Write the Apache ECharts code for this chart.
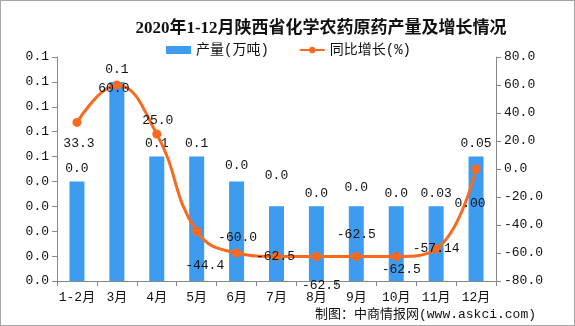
<!DOCTYPE html>
<html>
<head>
<meta charset="utf-8">
<script src="https://cdn.jsdelivr.net/npm/echarts@6/dist/echarts.min.js"></script>
<style>
html,body{margin:0;padding:0;background:#fff;}
#c{width:575px;height:326px;box-sizing:border-box;border:1px solid #a6a6a6;}
</style>
</head>
<body>
<div id="c"></div>
<script>
var categories = ['1-2月','3月','4月','5月','6月','7月','8月','9月','10月','11月','12月'];
var output = [0.04, 0.08, 0.05, 0.05, 0.04, 0.03, 0.03, 0.03, 0.03, 0.03, 0.05];
var outputLabels = ['0.0','0.1','0.1','0.1','0.0','0.0','0.0','0.0','0.0','0.03','0.05'];
var growth = [33.3, 60.0, 25.0, -44.4, -60.0, -62.5, -62.5, -62.5, -62.5, -57.14, 0.00];
var growthLabels = ['33.3','60.0','25.0','-44.4','-60.0','-62.5','-62.5','-62.5','-62.5','-57.14','0.00'];

// label layout (pixel offsets), kept apart from the data
var barLabelOffsets = [0,0,0,0,-3,-18,0,-6,0,0,0];
var lineLabelOffsets = [[2,21],[-3,4],[1,-13],[8,34],[1,-15],[-1,0],[5,29],[0,-22],[5,13],[0,0],[-6,35]];

var mono = '"Liberation Mono","DejaVu Sans Mono","Noto Sans CJK SC",monospace';
var chart = echarts.init(document.getElementById('c'), null, {renderer:'canvas'});
chart.setOption({
  animation:false,
  title:{
    text:'2020年1-12月陕西省化学农药原药产量及增长情况',
    left:315, top:14, textAlign:'center',
    textStyle:{fontSize:17, fontWeight:'bold', color:'#111', fontFamily:'"Liberation Serif","Noto Sans CJK SC",serif'}
  },
  legend:{
    top:37, left:160, itemGap:30, itemWidth:25, itemHeight:8,
    textStyle:{fontSize:14, color:'#111', fontFamily:mono},
    data:[{name:'产量(万吨)', icon:'rect'},{name:'同比增长(%)'}]
  },
  grid:{left:56, right:78, top:56, bottom:44},
  xAxis:{
    type:'category', data:categories,
    axisLine:{lineStyle:{color:'#888'}},
    axisTick:{show:true, length:5, lineStyle:{color:'#888'}},
    axisLabel:{interval:0, fontSize:13, color:'#111', fontFamily:mono, margin:10}
  },
  yAxis:[{
    type:'value', min:0, max:0.09, interval:0.01,
    axisLine:{show:true, lineStyle:{color:'#888'}},
    axisTick:{show:true, length:5, lineStyle:{color:'#888'}},
    splitLine:{show:false},
    axisLabel:{fontSize:13, color:'#111', fontFamily:mono, formatter:function(v){return v.toFixed(1);}}
  },{
    type:'value', min:-80, max:80, interval:20,
    axisLine:{show:true, lineStyle:{color:'#888'}},
    axisTick:{show:true, length:5, lineStyle:{color:'#888'}},
    splitLine:{show:false},
    axisLabel:{fontSize:13, color:'#111', fontFamily:mono, formatter:function(v){return v.toFixed(1);}}
  }],
  series:[{
    name:'产量(万吨)', type:'bar', barWidth:15, yAxisIndex:0,
    itemStyle:{color:'#3d9bf0'},
    data:output.map(function(v,i){return {value:v, label:{offset:[0,barLabelOffsets[i]]}};}),
    label:{show:true, position:'top', distance:6, fontSize:13, color:'#111', fontFamily:mono,
      formatter:function(p){return outputLabels[p.dataIndex];}}
  },{
    name:'同比增长(%)', type:'line', yAxisIndex:1, smooth:0.45,
    symbol:'circle', symbolSize:9,
    lineStyle:{color:'#f96a1e', width:3},
    itemStyle:{color:'#f96a1e'},
    data:growth.map(function(v,i){return {value:v, label:{offset:lineLabelOffsets[i]}};}),
    label:{show:true, position:'inside', fontSize:13, color:'#111', fontFamily:mono,
      formatter:function(p){return growthLabels[p.dataIndex];}}
  }],
  graphic:[{
    type:'text', right:38, bottom:4,
    style:{text:'制图：中商情报网(www.askci.com)', fontSize:13, fill:'#111', fontFamily:mono}
  }]
});
</script>
</body>
</html>
